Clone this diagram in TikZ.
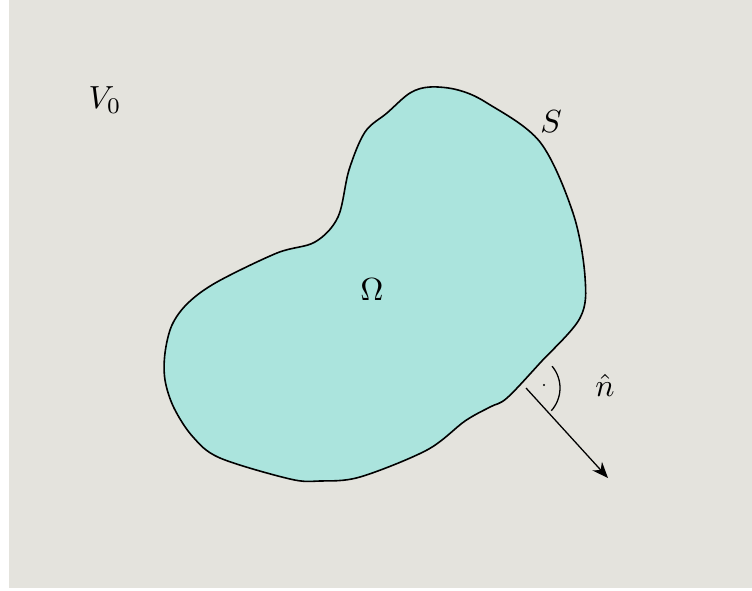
\documentclass[tikz,border=0pt]{standalone}
\usepackage{amsmath}
\usepackage{xcolor}
\usepackage{tikz}
\usetikzlibrary{arrows.meta,calc}
\definecolor{paper}{HTML}{E4E3DD}
\definecolor{body}{HTML}{ABE4DD}
\definecolor{ink}{HTML}{000000}

\begin{document}
\begin{tikzpicture}[x=0.11cm,y=0.11cm,>={Stealth[length=5pt,width=4pt]}]
\useasboundingbox (0,0) rectangle (75.2,59.0);
% the space around
\fill[paper] (0.93,0.2) rectangle (75.2,59.0);
\node[text=ink] (outer) at (10.5,49.0) {$V_0$};
% the region and its surface
\filldraw[fill=body,draw=ink,line width=0.5pt] plot[smooth cycle,tension=0.55] coordinates {
 (43.0,50.3) (45.8,50.0) (48.7,48.7) (54.0,44.8) (57.3,37.7) (58.5,31.3) (58.0,27.2)
 (54.0,22.7) (50.7,19.2) (49.0,18.3) (46.5,16.9) (42.7,14.0) (36.0,11.3)
 (32.0,10.9) (29.0,11.1) (22.0,13.2) (19.3,15.3) (17.4,18.2) (16.5,21.0)
 (16.5,23.7) (17.2,26.5) (18.8,28.7)
 (21.7,30.8) (27.7,33.7) (31.5,34.8) (33.8,37.3) (34.9,42.0) (36.5,45.8)
 (38.7,47.7) (41.0,49.7)};
\node[text=ink] (inner) at (37.2,30.0) {$\Omega$};
\node[text=ink] (surf) at (55.1,46.8) {$S$};
% the outward normal
\coordinate (foot) at (52.6,20.2);
\coordinate (tip) at (60.8,11.2);
\draw[->,ink] (foot) -- (tip);
\draw[ink] ($(foot)+(40:3.4)$) arc[start angle=40,end angle=-42,radius=3.4];
\fill[ink] ($(foot)+(1.8,0.3)$) circle (0.12);
\node[text=ink] (normal) at (60.5,20.5) {$\hat{n}$};
\end{tikzpicture}
\end{document}
